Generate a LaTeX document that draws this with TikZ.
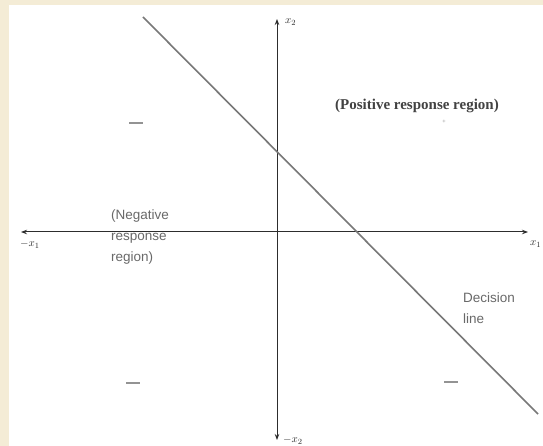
\documentclass[tikz,border=0pt]{standalone}
\usepackage{fontspec}
\setmainfont{Liberation Serif}
\setsansfont{Liberation Sans}
\usetikzlibrary{arrows.meta}
\definecolor{cream}{RGB}{244,236,214}
\definecolor{axisc}{RGB}{45,45,45}
\definecolor{linec}{RGB}{120,120,120}
\definecolor{softtext}{RGB}{105,105,105}
\tikzset{
  axis/.style={draw=axisc, line width=1pt, {Stealth[length=6pt,width=4.5pt]}-{Stealth[length=6pt,width=4.5pt]}},
  decline/.style={draw=linec, line width=1.6pt},
  axlabel/.style={text=axisc, font=\fontsize{11}{13}\selectfont, inner sep=0pt},
  postext/.style={text=axisc!90, font=\fontsize{15}{18}\selectfont\bfseries, inner sep=0pt},
  softlabel/.style={text=softtext, font=\sffamily\fontsize{13.5}{21}\selectfont, align=left, inner sep=0pt},
  minus/.style={draw=linec!80, line width=1.6pt}
}
\begin{document}
\begin{tikzpicture}[x=1pt,y=-1pt]
\useasboundingbox (0,0) rectangle (543,446);
\fill[cream] (0,0) rectangle (543,446);
\fill[white] (9,5) rectangle (543,446);
% axes
\coordinate (xl) at (21,232);
\coordinate (xr) at (528,232);
\coordinate (yt) at (277,19);
\coordinate (yb) at (277,440);
\draw[axis] (xl) -- (xr);
\draw[axis] (yb) -- (yt);
% decision line
\coordinate (d1) at (143,17);
\coordinate (d2) at (538,414);
\draw[decline] (d1) -- (d2);
% axis labels
\node[axlabel, anchor=west] (lx2) at (285,22) {$x_2$};
\node[axlabel, anchor=west] (lmx2) at (283,440) {$-x_2$};
\node[axlabel, anchor=west] (lmx1) at (20,244) {$-x_1$};
\node[axlabel, anchor=west] (lx1) at (530,244) {$x_1$};
% region texts
\node[postext, anchor=west] (pos) at (335,106) {(Positive response region)};
\node[text=linec, font=\fontsize{6}{6}\selectfont, inner sep=0pt] (plus) at (444,122) {+};
\node[softlabel, anchor=north west] (neg) at (111,210) {(Negative\\response\\region)};
\node[softlabel, anchor=north west] (dec) at (463,293) {Decision\\line};
% minus marks
\draw[minus] (129,123) -- (143,123);
\draw[minus] (126,383) -- (140,383);
\draw[minus] (444,382) -- (458,382);
\end{tikzpicture}
\end{document}
